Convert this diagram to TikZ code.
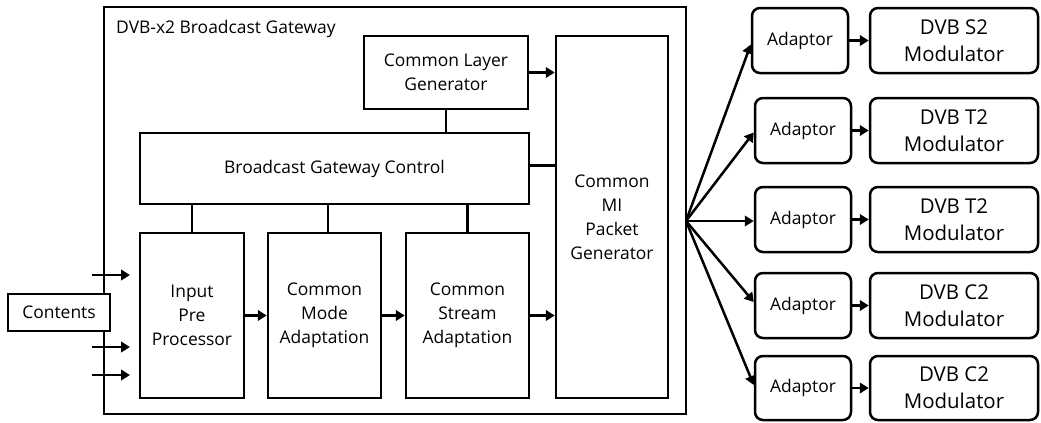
\documentclass[tikz,border=0pt]{standalone}
\usepackage{fontspec}
\setmainfont{Open Sans}
\usetikzlibrary{arrows.meta,calc}
\begin{document}
\begin{tikzpicture}[x=1bp,y=-1bp,
  blk/.style={draw,line width=2.5bp,fill=white,inner sep=0pt,align=center,
    font=\fontsize{17.5}{24}\selectfont},
  rblk/.style={blk,rounded corners=8bp},
  modblk/.style={rblk,font=\fontsize{20.5}{27}\selectfont},
  arr/.style={line width=2.5bp,-{Triangle[length=9bp,width=10.5bp]}},
  ln/.style={line width=2.5bp}]
\useasboundingbox (0,0) rectangle (1041,422);
% outer gateway
\node[blk, line width=2.2bp, minimum width=582bp, minimum height=407bp] (gw) at (395,210.5) {};
\node[anchor=base west, font=\fontsize{17.5}{20}\selectfont, inner sep=0pt] (title) at (116,33) {DVB-x2 Broadcast Gateway};
% inner blocks
\node[blk, minimum width=164bp, minimum height=73bp] (clg) at (446,72.5) {Common Layer\\Generator};
\node[blk, minimum width=389bp, minimum height=71bp] (bgc) at (334.5,168.5) {Broadcast Gateway Control};
\node[blk, minimum width=104bp, minimum height=165bp] (ipp) at (192,315.5) {Input\\Pre\\Processor};
\node[blk, minimum width=113bp, minimum height=165bp] (cma) at (324.5,315.5) {Common\\Mode\\Adaptation};
\node[blk, minimum width=123bp, minimum height=165bp] (csa) at (467.5,315.5) {Common\\Stream\\Adaptation};
\node[blk, minimum width=112bp, minimum height=362bp] (cmi) at (612,217) {Common\\MI\\Packet\\Generator};
% internal connections
\draw[ln] (clg.south) -- (clg.south |- bgc.north);
\draw[ln] (ipp.north) -- (ipp.north |- bgc.south);
\draw[ln] ([xshift=3.5bp]cma.north) -- ([xshift=3.5bp]cma.north |- bgc.south);
\draw[ln] (csa.north) -- (csa.north |- bgc.south);
\draw[arr] (clg.east) -- (clg.east -| cmi.west);
\draw[ln] ([yshift=3bp]bgc.east) -- ([yshift=3bp]bgc.east -| cmi.west);
\draw[arr] (ipp.east) -- (cma.west);
\draw[arr] (cma.east) -- (csa.west);
\draw[arr] (csa.east) -- (csa.east -| cmi.west);
% inputs
\coordinate (i1s) at (92,275); \coordinate (i1e) at (130,275);
\coordinate (i2s) at (92,347); \coordinate (i2e) at (130,347);
\coordinate (i3s) at (92,375); \coordinate (i3e) at (130,375);
\draw[arr] (i1s) -- (i1e);
\draw[arr] (i2s) -- (i2e);
\draw[arr] (i3s) -- (i3e);
\node[blk, minimum width=102bp, minimum height=37bp] (cont) at (59,312.5) {Contents};
% outputs
\node[rblk, minimum width=96bp, minimum height=65bp] (ad1) at (800,40.5) {Adaptor};
\node[rblk, minimum width=96bp, minimum height=65bp] (ad2) at (803,130.5) {Adaptor};
\node[rblk, minimum width=96bp, minimum height=65bp] (ad3) at (803,219.5) {Adaptor};
\node[rblk, minimum width=96bp, minimum height=65bp] (ad4) at (803,305.5) {Adaptor};
\node[rblk, minimum width=96bp, minimum height=64bp] (ad5) at (803,388) {Adaptor};
\node[modblk, minimum width=168bp, minimum height=65bp] (m1) at (954,40.5) {DVB S2\\Modulator};
\node[modblk, minimum width=168bp, minimum height=65bp] (m2) at (954,130.5) {DVB T2\\Modulator};
\node[modblk, minimum width=168bp, minimum height=65bp] (m3) at (954,219.5) {DVB T2\\Modulator};
\node[modblk, minimum width=168bp, minimum height=65bp] (m4) at (954,305.5) {DVB C2\\Modulator};
\node[modblk, minimum width=168bp, minimum height=64bp] (m5) at (954,388) {DVB C2\\Modulator};
\coordinate (fan) at (686,221);
\draw[arr] (fan) -- ($(ad1.west)+(0,4)$);
\draw[arr] (fan) -- ($(ad2.west)+(0,2)$);
\draw[arr] (fan) -- (fan -| ad3.west);
\draw[arr] (fan) -- ($(ad4.west)+(0,-3.5)$);
\draw[arr] (fan) -- ($(ad5.west)+(0,-3)$);
\foreach \i in {1,...,5} {\draw[arr] (ad\i.east) -- (m\i.west);}
\end{tikzpicture}
\end{document}
